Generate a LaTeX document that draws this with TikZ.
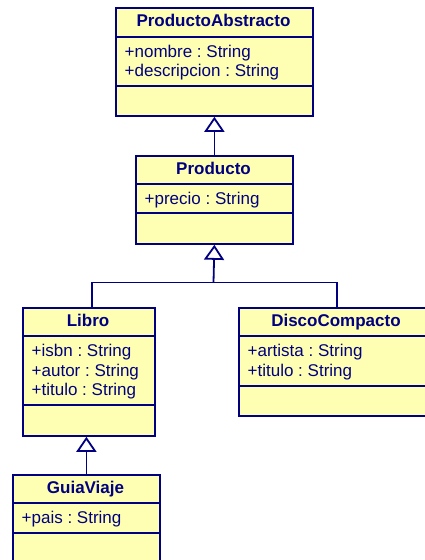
\documentclass[tikz,border=0pt]{standalone}
\usepackage{fontspec}
\setmainfont{Liberation Sans}
\usetikzlibrary{arrows.meta}
\definecolor{umlnavy}{RGB}{0,0,128}
\definecolor{umlfill}{RGB}{255,255,180}
\tikzset{
  classbox/.style={draw=umlnavy, fill=umlfill, line width=1.8pt, rectangle, inner sep=0pt, anchor=north west},
  sepline/.style={draw=umlnavy, line width=1.8pt},
  title/.style={font=\fontsize{17}{19}\selectfont\bfseries, text=umlnavy, inner sep=0pt, anchor=base},
  attr/.style={font=\fontsize{17}{19}\selectfont\frenchspacing, text=umlnavy, inner sep=0pt, anchor=base west},
  assoc/.style={draw=umlnavy, line width=1.8pt},
  inherit/.style={assoc, -{Triangle[open, length=15pt, width=20pt, fill=white]}},
}
\begin{document}
\begin{tikzpicture}[x=1pt, y=-1pt]
\clip (0,0) rectangle (425,560);
\fill[white] (0,0) rectangle (425,560);

% ProductoAbstracto
\node[classbox, minimum width=197pt, minimum height=108pt] (pa) at (115,7) {};
\draw[sepline] (pa.west |- 0,37) -- (pa.east |- 0,37);
\draw[sepline] (pa.west |- 0,86) -- (pa.east |- 0,86);
\node[title] (paT) at (213.5,26.5) {ProductoAbstracto};
\node[attr] (paA1) at (124.5,57) {+nombre : String};
\node[attr] (paA2) at (124.5,76) {+descripcion : String};

% Producto
\node[classbox, minimum width=157pt, minimum height=88pt] (producto) at (135,155) {};
\draw[sepline] (producto.west |- 0,184) -- (producto.east |- 0,184);
\draw[sepline] (producto.west |- 0,213) -- (producto.east |- 0,213);
\node[title] (prT) at (213.5,174) {Producto};
\node[attr] (prA1) at (144.5,204) {+precio : String};

% Libro
\node[classbox, minimum width=132pt, minimum height=128pt] (libro) at (22,307) {};
\draw[sepline] (libro.west |- 0,336) -- (libro.east |- 0,336);
\draw[sepline] (libro.west |- 0,405) -- (libro.east |- 0,405);
\node[title] (liT) at (88,326) {Libro};
\node[attr] (liA1) at (31.5,356.5) {+isbn : String};
\node[attr] (liA2) at (31.5,376) {+autor : String};
\node[attr] (liA3) at (31.5,395.5) {+titulo : String};

% DiscoCompacto
\node[classbox, minimum width=196pt, minimum height=108pt] (disco) at (238,307) {};
\draw[sepline] (disco.west |- 0,336) -- (disco.east |- 0,336);
\draw[sepline] (disco.west |- 0,386) -- (disco.east |- 0,386);
\node[title] (diT) at (336,326) {DiscoCompacto};
\node[attr] (diA1) at (247.5,356.5) {+artista : String};
\node[attr] (diA2) at (247.5,376) {+titulo : String};

% GuiaViaje
\node[classbox, minimum width=147pt, minimum height=90pt] (guia) at (12,474) {};
\draw[sepline] (guia.west |- 0,503) -- (guia.east |- 0,503);
\draw[sepline] (guia.west |- 0,533) -- (guia.east |- 0,533);
\node[title] (guT) at (85.5,493) {GuiaViaje};
\node[attr] (guA1) at (21.5,523.5) {+pais : String};

% Generalisations
\draw[inherit] (producto.north) -- (pa.south);
\coordinate (bus) at (213.5,282.5);
\draw[assoc] ([xshift=2.7pt]libro.north) |- (bus) -| (disco.north);
\draw[inherit] (bus) -- (producto.south);
\draw[inherit] (guia.north) -- (guia.north |- libro.south);
\end{tikzpicture}
\end{document}
